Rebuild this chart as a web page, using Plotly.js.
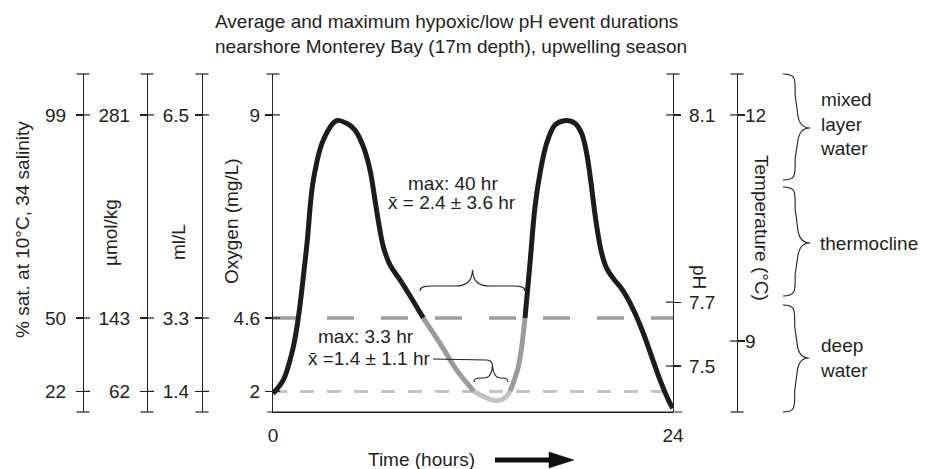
<!DOCTYPE html>
<html>
<head>
<meta charset="utf-8">
<script src="https://cdn.plot.ly/plotly-3.0.1.min.js"></script>
<style>html,body{margin:0;padding:0;background:#fff}#chart{width:927px;height:469px}</style>
</head>
<body>
<div id="chart"></div>
<script>
// ---------------- data (schematic level units: 0 = bottom of axes, 100 = top) ----------------
const timeHours = [0, 0.62, 1.22, 1.52, 2.02, 2.42, 3.02, 3.82, 4.42, 4.92, 5.42, 5.82, 6.12, 6.38, 6.62, 7.02, 7.62, 8.32, 9.02,
  10.02, 11.02, 12.06, 12.62, 13.42, 13.92, 14.22, 14.72, 15.12,
  15.42, 15.72, 16.02, 16.42, 16.92, 17.48, 18.12, 18.52, 18.82, 19.06, 19.26, 19.46, 19.72, 20.02, 20.42, 20.82, 21.22, 21.72, 22.22, 22.72, 23.22, 23.72, 23.98];
const signalLevel = [5.5, 9.5, 19.3, 27.9, 48.9, 68.6, 80.5, 86.2, 85.4, 83.4, 78.5, 71.6, 62.7, 54.8, 48.9, 43.5, 39.1, 33.6, 27.8,
  20.3, 12.4, 6.1, 4.6, 3.3, 4.2, 6.1, 13.4, 27.8,
  44.0, 60.7, 70.6, 79.5, 84.9, 86.2, 85.4, 82.4, 76.5, 68.6, 60.7, 53.8, 47.0, 42.5, 39.5, 37.1, 34.1, 29.2, 23.3, 16.4, 9.5, 3.6, 1.1];

// hypoxic / severe event boundaries (hours)
const eventStart = 9.02, eventEnd = 15.12;
const severeStart = 12.06, severeEnd = 14.22;

// threshold levels (4.6 mg/L and 2 mg/L)
const hypoxicLevel = 27.8;
const severeLevel = 6.1;

// tick labels and their levels
const sharedTickLevels = [87.9, 27.8, 6.1];
const satTickText = ['99', '50', '22'];
const umolTickText = ['281', '143', '62'];
const mlTickText = ['6.5', '3.3', '1.4'];
const oxygenTickText = ['9', '4.6', '2'];
const phTickLevels = [87.9, 32.5, 13.6];
const phTickText = ['8.1', '7.7', '7.5'];
const tempTickLevels = [87.9, 21.0];
const tempTickText = ['12', '9'];
const timeTickVals = [0, 24];
const timeTickText = ['0', '24'];

const titleText = 'Average and maximum hypoxic/low pH event durations<br>nearshore Monterey Bay (17m depth), upwelling season';
const eventNotes = ['max: 40 hr', 'x\u0304 = 2.4 \u00b1 3.6 hr', 'max: 3.3 hr', 'x\u0304 =1.4 \u00b1 1.1 hr'];
const layerNames = ['mixed<br>layer<br>water', 'thermocline', 'deep<br>water'];

// ---------------- geometry helpers ----------------
const W = 927, H = 469;
const PL = 273, PR = 673, PT = 74, PB = 412;
const fx = p => p / W;
const fy = p => (PB - p) / (PB - PT);
const INK = '#231f20';
const FONT = 'Liberation Sans, Arial, Helvetica, sans-serif';
const FS = 19;

function path(cmds) {
  return cmds.map(c => {
    let s = c[0];
    const nums = c.slice(1);
    const parts = [];
    for (let i = 0; i < nums.length; i += 2) parts.push(fx(nums[i]).toFixed(5) + ',' + fy(nums[i + 1]).toFixed(5));
    return s + parts.join(' ');
  }).join(' ');
}

// ---------------- traces ----------------
const traces = [];
traces.push({x: [0, 24], y: [hypoxicLevel, hypoxicLevel], mode: 'lines', line: {color: '#9d9d9d', width: 3.5, dash: '27px,27px'}, hoverinfo: 'skip'});
traces.push({x: [0, 24], y: [severeLevel, severeLevel], mode: 'lines', line: {color: '#c4c4c4', width: 3, dash: '14px,13px'}, hoverinfo: 'skip'});

const segs = [
  [0, eventStart, '#1c1c1c'],
  [eventStart, severeStart, '#9b9b9b'],
  [severeStart, severeEnd, '#c2c2c2'],
  [severeEnd, eventEnd, '#9b9b9b'],
  [eventEnd, 24, '#1c1c1c']
];
segs.forEach(([a, b, col]) => {
  const xs = [], ys = [];
  timeHours.forEach((t, i) => { if (t >= a - 1e-9 && t <= b + 1e-9) { xs.push(t); ys.push(signalLevel[i]); } });
  traces.push({x: xs, y: ys, mode: 'lines', line: {color: col, width: 5, shape: 'spline', smoothing: 1}, hoverinfo: 'skip'});
});
['y2', 'y3', 'y4', 'y5', 'y6'].forEach(ya => traces.push({x: [], y: [], yaxis: ya, mode: 'lines', hoverinfo: 'skip', showlegend: false}));

// ---------------- axes ----------------
function yAxis(extra, vals, text, standoff) {
  return Object.assign({
    range: [0, 100], tickmode: 'array', tickvals: vals, ticktext: text,
    ticks: 'outside', ticklen: 7, tickwidth: 1.2, tickcolor: INK,
    showline: true, linecolor: INK, linewidth: 1.2, showgrid: false, zeroline: false,
    tickfont: {family: FONT, size: FS, color: INK}, ticklabelstandoff: standoff,
    automargin: false, fixedrange: true
  }, extra);
}
const axes = [
  {key: 'yaxis2', pos: 83, side: 'left', vals: sharedTickLevels, text: satTickText, so: 6, bottomCap: true},
  {key: 'yaxis3', pos: 147, side: 'left', vals: sharedTickLevels, text: umolTickText, so: 6, bottomCap: true},
  {key: 'yaxis4', pos: 202, side: 'left', vals: sharedTickLevels, text: mlTickText, so: 2, bottomCap: true},
  {key: 'yaxis', pos: 273, side: 'left', vals: sharedTickLevels, text: oxygenTickText, so: 1, bottomCap: false},
  {key: 'yaxis5', pos: 673, side: 'right', vals: phTickLevels, text: phTickText, so: 4, bottomCap: false},
  {key: 'yaxis6', pos: 737, side: 'right', vals: tempTickLevels, text: tempTickText, so: -4, bottomCap: true}
];

const layout = {
  width: W, height: H,
  margin: {l: 0, r: 0, t: PT, b: H - PB, pad: 0},
  paper_bgcolor: '#fff', plot_bgcolor: 'rgba(0,0,0,0)',
  showlegend: false, hovermode: false,
  font: {family: FONT, size: FS, color: INK},
  title: {text: titleText, x: fx(215), xanchor: 'left', xref: 'container', y: 1 - 28 / H, yanchor: 'top', yref: 'container',
          font: {family: FONT, size: FS, color: INK}},
  xaxis: {domain: [fx(PL), fx(PR)], range: [0, 24], tickmode: 'array', tickvals: timeTickVals, ticktext: timeTickText,
          ticks: '', showline: true, linecolor: INK, linewidth: 1.2, showgrid: false, zeroline: false,
          tickfont: {family: FONT, size: FS, color: INK}, ticklabelstandoff: 6, automargin: false, fixedrange: true},
  shapes: [], annotations: []
};
axes.forEach(a => {
  const extra = a.key === 'yaxis' ? {anchor: 'x', side: 'left', domain: [0, 1]}
                                   : {anchor: 'free', overlaying: 'y', position: fx(a.pos), side: a.side};
  layout[a.key] = yAxis(extra, a.vals, a.text, a.so);
  const dir = a.side === 'left' ? 1 : -1;
  const line = (x0, y0, x1, y1) => layout.shapes.push({type: 'line', xref: 'paper', yref: 'paper', x0: fx(x0), x1: fx(x1), y0: y0, y1: y1, line: {color: INK, width: 1.2}});
  a.vals.forEach(v => line(a.pos, v / 100, a.pos + dir * 7, v / 100));
  line(a.pos - 6.5, 1, a.pos + 6.5, 1);
  if (a.bottomCap) line(a.pos - 6.5, 0, a.pos + 6.5, 0);
});
// extended time axis baseline
layout.shapes.push({type: 'line', xref: 'paper', yref: 'paper', x0: fx(267), x1: fx(682), y0: 0, y1: 0, line: {color: INK, width: 1.2}});

// braces
const thin = {color: INK, width: 1.1};
function addPath(cmds, line, fill) {
  layout.shapes.push({type: 'path', xref: 'paper', yref: 'paper', path: path(cmds), line: line, fillcolor: fill || 'rgba(0,0,0,0)'});
}
addPath([['M', 420, 291], ['C', 420, 287, 424, 286, 432, 286], ['L', 455, 286], ['C', 466, 286, 472, 282, 472.5, 270],
         ['C', 473, 282, 479, 286, 490, 286], ['L', 513, 286], ['C', 521, 286, 525, 287, 525, 291]], thin);
addPath([['M', 474, 382], ['C', 474, 379, 476, 378, 480, 378], ['L', 484, 378], ['C', 489, 378, 492, 374, 492.5, 365],
         ['C', 493, 374, 496, 378, 501, 378], ['L', 503, 378], ['C', 506, 378, 508, 379, 508, 382]], thin);
addPath([['M', 492.5, 365], ['C', 492, 361, 490, 360, 486, 360], ['L', 433, 359]], thin);

function vBrace(x0, xt, yt, yb, ytip) {
  const w = xt - x0, Hh = yb - yt;
  addPath([['M', x0, yt], ['C', x0 + w * 0.5, yt, x0 + w * 0.45, yt + 0.05 * Hh, x0 + w * 0.45, yt + 0.2 * Hh],
           ['L', x0 + w * 0.55, ytip - 0.12 * Hh], ['C', x0 + w * 0.6, ytip - 0.03 * Hh, x0 + w * 0.8, ytip, xt, ytip],
           ['C', x0 + w * 0.8, ytip, x0 + w * 0.6, ytip + 0.03 * Hh, x0 + w * 0.55, ytip + 0.12 * Hh],
           ['L', x0 + w * 0.45, yb - 0.2 * Hh], ['C', x0 + w * 0.45, yb - 0.05 * Hh, x0 + w * 0.5, yb, x0, yb]], thin);
}
vBrace(783, 810, 74, 180, 128);
vBrace(783, 810, 187, 296, 243);
vBrace(783, 809, 305, 412, 358);

// time arrow
addPath([['M', 495, 460], ['L', 552, 460]], {color: '#111', width: 5});
addPath([['M', 549, 452], ['L', 574, 460], ['L', 549, 468], ['Z']], {color: '#111', width: 0.5}, '#111');

// ---------------- annotations ----------------
function ann(text, x, y, opts) {
  layout.annotations.push(Object.assign({text: text, xref: 'paper', yref: 'paper', x: fx(x), y: fy(y), showarrow: false,
    xanchor: 'center', yanchor: 'middle', font: {family: FONT, size: FS, color: INK}}, opts || {}));
}
ann('% sat. at 10\u00b0C, 34 salinity', 22, 230, {textangle: -90});
ann('\u00b5mol/kg', 110, 233, {textangle: -90});
ann('ml/L', 178, 242, {textangle: -90});
ann('Oxygen (mg/L)', 231, 221, {textangle: -90});
ann('pH', 700, 277, {textangle: 90});
ann('Temperature (\u00b0C)', 762, 228, {textangle: 90});
ann('Time (hours)', 421, 459);
ann(eventNotes[0], 453, 183);
ann(eventNotes[1], 452, 203);
ann(eventNotes[2], 366, 336);
ann(eventNotes[3], 369, 358);
ann(layerNames[0], 818, 124, {xanchor: 'left', align: 'left'});
ann(layerNames[1], 818, 243, {xanchor: 'left', align: 'left'});
ann(layerNames[2], 818, 358, {xanchor: 'left', align: 'left'});

Plotly.newPlot('chart', traces, layout, {staticPlot: true, displayModeBar: false});
</script>
</body>
</html>
